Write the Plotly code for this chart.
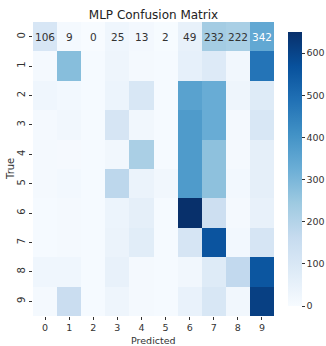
import plotly.graph_objects as go

classes = [str(i) for i in range(10)]
row0 = [106, 9, 0, 25, 13, 2, 49, 232, 222, 342]
row1 = [10, 280, 5, 30, 10, 5, 55, 85, 20, 480]
row2 = [25, 15, 5, 35, 100, 5, 360, 330, 30, 80]
row3 = [10, 20, 5, 110, 20, 5, 380, 330, 10, 100]
row4 = [10, 8, 5, 20, 220, 5, 380, 270, 10, 60]
row5 = [10, 15, 5, 180, 40, 20, 380, 270, 15, 60]
row6 = [5, 10, 5, 35, 60, 5, 650, 140, 10, 50]
row7 = [5, 10, 5, 40, 70, 5, 110, 560, 15, 110]
row8 = [25, 25, 5, 50, 10, 5, 20, 80, 170, 555]
row9 = [10, 150, 5, 30, 10, 5, 45, 100, 20, 610]
matrix = [row0, row1, row2, row3, row4, row5, row6, row7, row8, row9]
annotated_rows = [0]
colorbar_ticks = [0, 100, 200, 300, 400, 500, 600]

blues = [
    [0.0, "#f7fbff"], [0.125, "#deebf7"], [0.25, "#c6dbef"], [0.375, "#9ecae1"],
    [0.5, "#6baed6"], [0.625, "#4292c6"], [0.75, "#2171b5"], [0.875, "#08519c"],
    [1.0, "#08306b"],
]

zmax = max(max(r) for r in matrix)

fig = go.Figure(go.Heatmap(
    z=matrix, x=classes, y=classes, colorscale=blues, zmin=0, zmax=zmax,
    colorbar=dict(thickness=14, len=1.0, lenmode="fraction", y=0.5, yanchor="middle",
                  x=1.0, xref="paper", xpad=14, xanchor="left", outlinewidth=0,
                  tickvals=colorbar_ticks,
                  ticks="outside", ticklen=3, tickcolor="#333",
                  tickfont=dict(size=9.5, color="#333")),
    hoverinfo="z",
))

annotations = []
for r in annotated_rows:
    for c, v in enumerate(matrix[r]):
        annotations.append(dict(
            x=classes[c], y=classes[r], text=str(v), showarrow=False,
            font=dict(size=10.5, color="white" if v / zmax > 0.5 else "#333"),
        ))
annotations.append(dict(text="Predicted", xref="paper", yref="paper", x=0.5, y=0,
                        xanchor="center", yanchor="top", yshift=-17.5, showarrow=False,
                        borderpad=0, font=dict(size=9.5, color="#333")))
annotations.append(dict(text="True", xref="paper", yref="paper", x=0, y=0.5,
                        xanchor="center", yanchor="middle", xshift=-23, textangle=-90,
                        borderpad=0, showarrow=False, font=dict(size=10, color="#333")))

fig.update_layout(
    width=326, height=346,
    margin=dict(l=33, r=52, t=22, b=30, autoexpand=False),
    paper_bgcolor="white", plot_bgcolor="white",
    font=dict(family="DejaVu Sans", color="#333"),
    title=dict(text="MLP Confusion Matrix", x=0.5, xref="paper", xanchor="center",
               y=1, yref="paper", yanchor="bottom", pad=dict(b=3),
               font=dict(size=12, color="#222")),
    annotations=annotations,
    xaxis=dict(automargin=False,
               ticks="outside", ticklen=3, tickcolor="#333", tickfont=dict(size=9.5),
               showgrid=False, zeroline=False, showline=False),
    yaxis=dict(automargin=False,
               autorange="reversed", tickangle=-90,
               ticks="outside", ticklen=3, tickcolor="#333", tickfont=dict(size=10),
               showgrid=False, zeroline=False, showline=False),
)

fig.write_html("out.html", config={"displayModeBar": False},
               post_script="document.body.style.margin='0';document.body.style.overflow='hidden';")
